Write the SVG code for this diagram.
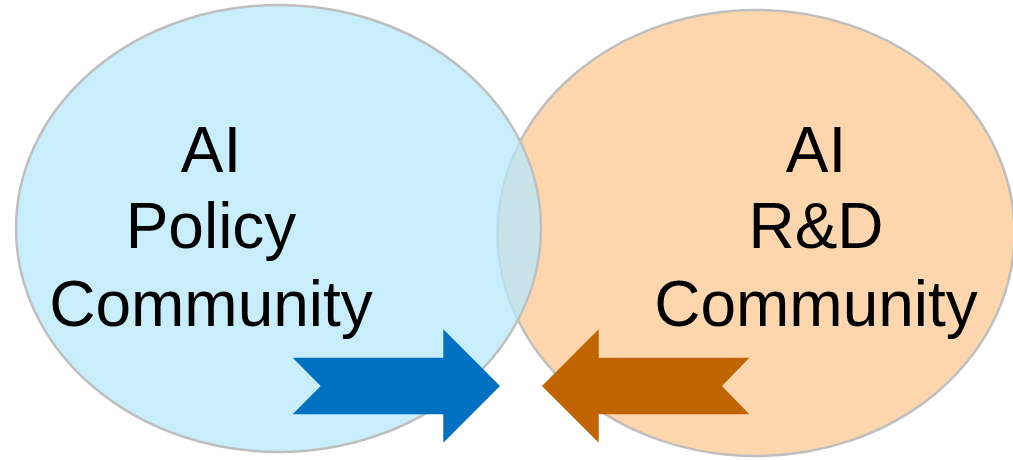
<svg xmlns="http://www.w3.org/2000/svg" width="1013" height="460" viewBox="0 0 1013 460">
<style>
.lbl{font-family:"Liberation Sans",Arial,sans-serif;font-size:64px;fill:#000;text-anchor:middle}
.ring{stroke:#bfbfbf;stroke-width:2.5}
</style>
<rect width="1013" height="460" fill="#fff"/>
<g id="rd-community">
<ellipse class="ring" cx="756" cy="233" rx="258.5" ry="223" fill="#fdd6ae"/>
<text class="lbl" x="816" y="172">AI</text>
<text class="lbl" x="816" y="248">R&amp;D</text>
<text class="lbl" x="816" y="326">Community</text>
</g>
<g id="policy-community">
<ellipse class="ring" cx="278.5" cy="228.5" rx="262.5" ry="223.5" fill="#b5e8fb" fill-opacity="0.75"/>
<text class="lbl" x="211" y="172">AI</text>
<text class="lbl" x="211" y="248">Policy</text>
<text class="lbl" x="211" y="326">Community</text>
</g>
<g id="connectors">
<polygon points="292.7,357.7 443.3,357.7 443.3,329.3 500,386 443.3,442.7 443.3,414.3 292.7,414.3 320.7,386" fill="#0070c0"/>
<polygon points="749.3,357.7 598.7,357.7 598.7,329.3 542,386 598.7,442.7 598.7,414.3 749.3,414.3 722,386" fill="#c06400"/>
</g>
</svg>
